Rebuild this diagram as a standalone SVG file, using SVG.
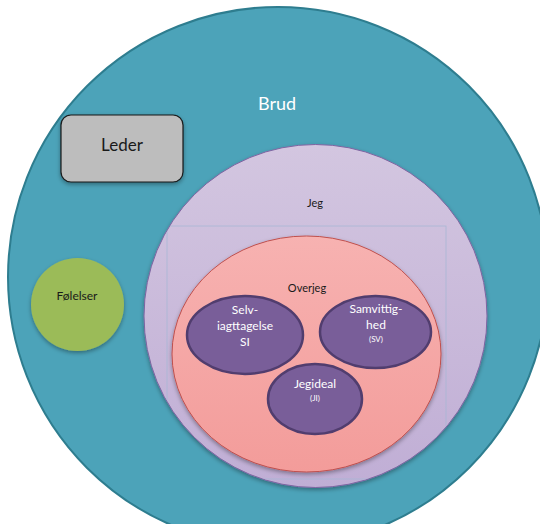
<svg xmlns="http://www.w3.org/2000/svg" width="540" height="524" viewBox="0 0 540 524">
<defs>
<linearGradient id="gJeg" x1="0" y1="0" x2="0" y2="1"><stop offset="0" stop-color="#d3c6e0"/><stop offset="1" stop-color="#c0aed5"/></linearGradient>
<linearGradient id="gOver" x1="0" y1="0" x2="0" y2="1"><stop offset="0" stop-color="#f7b2b1"/><stop offset="1" stop-color="#f39c9a"/></linearGradient>
<clipPath id="cJeg"><circle cx="315.5" cy="316" r="171"/></clipPath>
<filter id="sh" x="-10%" y="-10%" width="120%" height="125%"><feDropShadow dx="0" dy="2" stdDeviation="2" flood-color="#000" flood-opacity="0.35"/></filter>
<style>
text{font-family:Lato,"Open Sans","Liberation Sans",sans-serif;text-anchor:middle}
.w{fill:#ffffff}
.d{fill:#1a1a1a}
.pur{fill:#795e99;stroke:#513d6e;stroke-width:2.5}
</style>
</defs>
<g id="brud">
<circle cx="278" cy="277" r="270" fill="#4ca3b9" stroke="#2e7d8f" stroke-width="2"/>
<text class="w" x="277" y="110" font-size="18">Brud</text>
</g>
<g id="leder">
<rect x="61" y="115" width="122" height="67" rx="10" fill="#bdbdbd" stroke="#1a1a1a" stroke-width="1.2" filter="url(#sh)"/>
<text class="d" x="122" y="151" font-size="17">Leder</text>
</g>
<g id="folelser">
<circle cx="77.5" cy="304.5" r="46.5" fill="#9bbb59" filter="url(#sh)"/>
<text class="d" x="77" y="300" font-size="12">Følelser</text>
</g>
<g id="jeg">
<circle cx="315.5" cy="316" r="171.5" fill="url(#gJeg)" stroke="#7f64a1" stroke-width="1" filter="url(#sh)"/>
<rect x="167" y="226" width="279" height="253" fill="none" stroke="#a9b7d4" stroke-width="0.8" clip-path="url(#cJeg)"/>
<text class="d" x="315" y="207" font-size="11">Jeg</text>
</g>
<g id="overjeg">
<ellipse cx="306.5" cy="354" rx="134.5" ry="118" fill="url(#gOver)" stroke="#c0504d" stroke-width="1" filter="url(#sh)"/>
<text class="d" x="307" y="292" font-size="11">Overjeg</text>
</g>
<g id="selv">
<ellipse class="pur" cx="245" cy="335" rx="58" ry="39"/>
<text class="w" x="245" y="314" font-size="12">Selv-</text>
<text class="w" x="245" y="330" font-size="12">iagttagelse</text>
<text class="w" x="245" y="346" font-size="12">SI</text>
</g>
<g id="samvittighed">
<ellipse class="pur" cx="375.5" cy="332" rx="55.5" ry="36"/>
<text class="w" x="376" y="313" font-size="12">Samvittig-</text>
<text class="w" x="376" y="329" font-size="12">hed</text>
<text class="w" x="376" y="342" font-size="8">(SV)</text>
</g>
<g id="jegideal">
<ellipse class="pur" cx="315" cy="399" rx="47" ry="35"/>
<text class="w" x="315" y="388" font-size="12">Jegideal</text>
<text class="w" x="315" y="401" font-size="8">(JI)</text>
</g>
<g id="connectors"/>
</svg>
